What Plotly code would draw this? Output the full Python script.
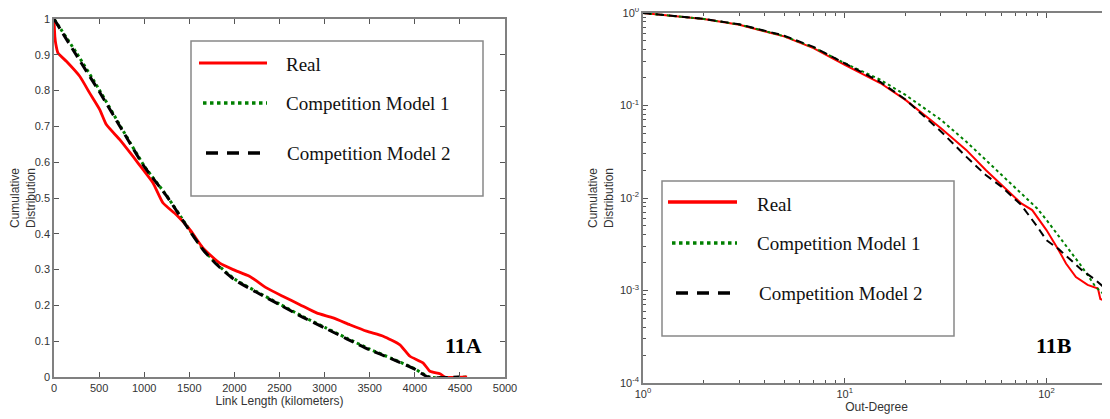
import plotly.graph_objects as go

OFF = 8            # page body margin added by the browser
W, H = 1110 - OFF, 419 - OFF

# ---------------- Panel 11A data (Link length CCDF) ----------------
a_real_x = [0, 10, 20, 44, 137, 285, 396, 507, 580, 729, 876, 988, 1098, 1209, 1357, 1505,
            1653, 1838, 1986, 2171, 2356, 2541, 2726, 2911, 3095, 3280, 3465, 3650, 3835,
            3946, 4094, 4168, 4279, 4334, 4580]
a_real_y = [1.0, 0.95, 0.93, 0.905, 0.882, 0.840, 0.793, 0.747, 0.705, 0.663, 0.616, 0.579,
            0.542, 0.486, 0.453, 0.412, 0.360, 0.318, 0.300, 0.281, 0.249, 0.225, 0.202,
            0.179, 0.165, 0.146, 0.128, 0.114, 0.090, 0.058, 0.039, 0.016, 0.009, 0.0, 0.0]
a_m1_x = [0, 250, 500, 750, 1000, 1250, 1500, 1650, 1800, 2000, 2250, 2500, 2750, 3000,
          3250, 3500, 3750, 4000, 4160, 4580]
a_m1_y = [1.0, 0.905, 0.803, 0.695, 0.590, 0.506, 0.412, 0.358, 0.317, 0.274, 0.238, 0.204,
          0.170, 0.139, 0.108, 0.078, 0.051, 0.023, 0.0, 0.0]
a_m2_x = [0, 250, 500, 750, 1000, 1250, 1500, 1650, 1800, 2000, 2250, 2500, 2750, 3000,
          3250, 3500, 3750, 4000, 4150, 4500]
a_m2_y = [1.0, 0.898, 0.798, 0.692, 0.588, 0.505, 0.410, 0.356, 0.315, 0.272, 0.236, 0.202,
          0.168, 0.137, 0.106, 0.076, 0.050, 0.022, 0.0, 0.0]

a_xticks = [0, 500, 1000, 1500, 2000, 2500, 3000, 3500, 4000, 4500, 5000]
a_yticks = [0, 0.1, 0.2, 0.3, 0.4, 0.5, 0.6, 0.7, 0.8, 0.9, 1]
a_ytext = ["0", "0.1", "0.2", "0.3", "0.4", "0.5", "0.6", "0.7", "0.8", "0.9", "1"]

# ---------------- Panel 11B data (Out-degree CCDF, log-log) ----------------
b_real_x = [1, 2, 3, 5, 7, 10, 15, 20, 30, 40, 50, 60, 75, 85, 100, 115, 125, 140, 160,
            180, 185, 200, 220]
b_real_y = [1, 0.861, 0.747, 0.559, 0.418, 0.275, 0.175, 0.115, 0.0568, 0.0331, 0.0201,
            0.0138, 0.00875, 0.0074, 0.0045, 0.00273, 0.00196, 0.0014, 0.00115, 0.00105,
            0.00081, 0.00075, 0.0007]
b_m1_x = [1, 2, 3, 5, 7, 10, 15, 20, 30, 40, 50, 60, 75, 90, 100, 125, 150, 175, 200, 220]
b_m1_y = [1, 0.862, 0.75, 0.562, 0.425, 0.287, 0.19, 0.13, 0.07, 0.0407, 0.0258, 0.0177,
          0.0112, 0.0077, 0.0058, 0.003, 0.0018, 0.0011, 0.00085, 0.0007]
b_m2_x = [1, 2, 3, 5, 7, 10, 15, 20, 30, 40, 50, 60, 75, 90, 100, 115, 130, 150, 175, 200, 220]
b_m2_y = [1, 0.865, 0.755, 0.57, 0.43, 0.287, 0.18, 0.116, 0.0524, 0.028, 0.0177, 0.0132,
          0.0084, 0.0049, 0.0035, 0.0028, 0.0022, 0.00166, 0.0013, 0.00101, 0.0009]

b_xticks = [1, 10, 100]
b_xtext = ["10<sup>0</sup>", "10<sup>1</sup>", "10<sup>2</sup>"]
b_xminor = [2, 3, 4, 5, 6, 7, 8, 9, 20, 30, 40, 50, 60, 70, 80, 90, 200]
b_yticks = [1e-4, 1e-3, 1e-2, 1e-1, 1]
b_ytext = ["10<sup>-4</sup>", "10<sup>-3</sup>", "10<sup>-2</sup>", "10<sup>-1</sup>", "10<sup>0</sup>"]
b_yminor = [m * 10.0 ** e for e in (-4, -3, -2, -1) for m in range(2, 10)]

series_names = ["Real", "Competition Model 1", "Competition Model 2"]
RED, GREEN, BLACK = "#ff0000", "#008000", "#000000"

fig = go.Figure()
# Panel A
fig.add_trace(go.Scatter(x=a_m1_x, y=a_m1_y, mode="lines", name=series_names[1],
                         line=dict(color=GREEN, width=3, dash="dot", shape="spline", smoothing=0.6),
                         xaxis="x", yaxis="y"))
fig.add_trace(go.Scatter(x=a_real_x, y=a_real_y, mode="lines", name=series_names[0],
                         line=dict(color=RED, width=2.8, shape="spline", smoothing=0.5),
                         xaxis="x", yaxis="y"))
fig.add_trace(go.Scatter(x=a_m2_x, y=a_m2_y, mode="lines", name=series_names[2],
                         line=dict(color=BLACK, width=3, dash="11px,6px", shape="spline", smoothing=0.6),
                         xaxis="x", yaxis="y"))
# Panel B
fig.add_trace(go.Scatter(x=b_real_x, y=b_real_y, mode="lines", name=series_names[0],
                         line=dict(color=RED, width=2), xaxis="x2", yaxis="y2"))
fig.add_trace(go.Scatter(x=b_m1_x, y=b_m1_y, mode="lines", name=series_names[1],
                         line=dict(color=GREEN, width=2, dash="dot"), xaxis="x2", yaxis="y2"))
fig.add_trace(go.Scatter(x=b_m2_x, y=b_m2_y, mode="lines", name=series_names[2],
                         line=dict(color=BLACK, width=2, dash="8px,5px"), xaxis="x2", yaxis="y2"))

AXC = "#808080"
TICKF = dict(family="Liberation Sans, Arial, sans-serif", size=11, color="#333333")
TITLEF = dict(family="Liberation Sans, Arial, sans-serif", size=12, color="#333333")

def px_x(p):
    return (p - OFF) / W

def px_y(p):
    return 1 - (p - OFF) / H

common = dict(showgrid=False, zeroline=False, showline=True, linecolor=AXC, linewidth=1.5,
              ticks="inside", ticklen=5, tickcolor="#555555", tickfont=TICKF, automargin=False,
              ticklabeloverflow="allow")

fig.update_layout(
    width=W, height=H, margin=dict(l=0, r=0, t=0, b=0),
    paper_bgcolor="white", plot_bgcolor="white", showlegend=False,
    xaxis=dict(domain=[px_x(54), px_x(505)], range=[0, 5000], tickmode="array",
               tickvals=a_xticks, ticktext=[str(v) for v in a_xticks], mirror="ticks",
               anchor="y", title=dict(text="Link Length (kilometers)", font=TITLEF, standoff=0),
               **common),
    yaxis=dict(domain=[px_y(377), px_y(19)], range=[0, 1], tickmode="array",
               tickvals=a_yticks, ticktext=a_ytext, mirror="ticks", anchor="x",
               title=dict(text="Cumulative<br>Distribution", font=TITLEF, standoff=4),
               **common),
    xaxis2=dict(domain=[px_x(643), 1.0], type="log", range=[0, 2.315], tickmode="array",
                tickvals=b_xticks, ticktext=b_xtext, mirror="ticks", anchor="y2",
                minor=dict(tickmode="array", tickvals=b_xminor, ticks="inside", ticklen=3,
                           tickcolor="#555555"),
                title=dict(text="Out-Degree", font=TITLEF, standoff=4), **common),
    yaxis2=dict(domain=[px_y(383), px_y(13)], type="log", range=[-4, 0], tickmode="array",
                tickvals=b_yticks, ticktext=b_ytext, mirror=False, anchor="x2",
                minor=dict(tickmode="array", tickvals=b_yminor, ticks="inside", ticklen=3,
                           tickcolor="#555555"),
                title=dict(text="Cumulative<br>Distribution", font=TITLEF, standoff=4),
                **common),
)

# ---------------- Manual legends ----------------
LEGF = dict(family="Liberation Serif, Times New Roman, serif", size=19, color="#111111")
shapes = []
annotations = []

def legend(box, rows):
    x0, y0, x1, y1 = box
    shapes.append(dict(type="rect", xref="paper", yref="paper",
                       x0=px_x(x0), x1=px_x(x1), y0=px_y(y1), y1=px_y(y0),
                       line=dict(color="#888888", width=1.5), fillcolor="white", layer="above"))
    for (lx0, lx1, ly, tx, ty, name, color, dash, lw) in rows:
        shapes.append(dict(type="line", xref="paper", yref="paper",
                           x0=px_x(lx0), x1=px_x(lx1), y0=px_y(ly), y1=px_y(ly),
                           line=dict(color=color, width=lw, dash=dash), layer="above"))
        annotations.append(dict(xref="paper", yref="paper", x=px_x(tx), y=px_y(ty),
                                text=name, showarrow=False, xanchor="left", yanchor="middle",
                                font=LEGF))

legend((191, 41, 483, 196), [
    (199, 267, 63, 284, 64, series_names[0], RED, "solid", 3),
    (203, 267, 103, 284, 103, series_names[1], GREEN, "dot", 3.5),
    (206, 262, 153, 285, 153, series_names[2], BLACK, "12px,9px", 3.5),
])
legend((662, 181, 954, 336), [
    (668, 737, 202, 755, 204, series_names[0], RED, "solid", 3.5),
    (672, 737, 243, 755, 243, series_names[1], GREEN, "dot", 3.5),
    (676, 730, 293, 757, 293, series_names[2], BLACK, "12px,9px", 3.5),
])

PANELF = dict(family="Liberation Serif, Times New Roman, serif", size=22, color="#000000")
annotations.append(dict(xref="paper", yref="paper", x=px_x(463), y=px_y(345), text="<b>11A</b>",
                        showarrow=False, xanchor="center", yanchor="middle", font=PANELF))
annotations.append(dict(xref="paper", yref="paper", x=px_x(1054), y=px_y(345), text="<b>11B</b>",
                        showarrow=False, xanchor="center", yanchor="middle", font=PANELF))

fig.update_layout(shapes=shapes, annotations=annotations)

fig.write_html("out.html")
